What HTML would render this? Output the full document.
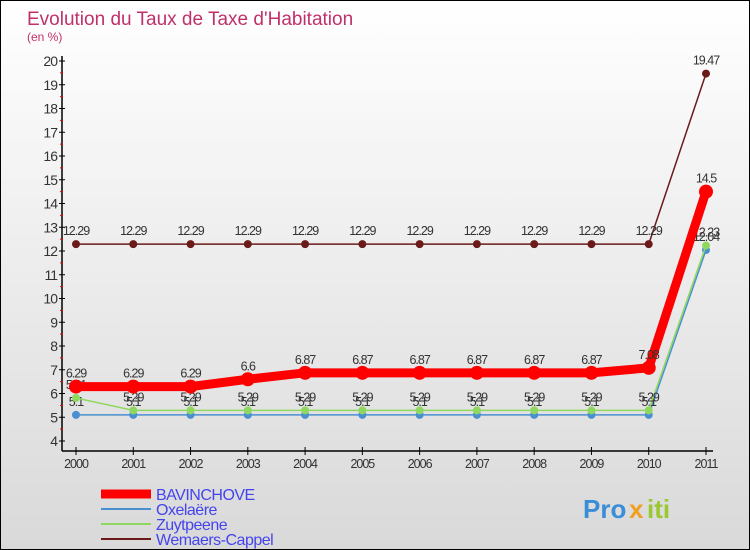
<!DOCTYPE html>
<html><head><meta charset="utf-8"><style>
body{margin:0;}
#c{width:750px;height:550px;position:relative;overflow:hidden;border:1px solid #000;box-sizing:border-box;background:linear-gradient(#ffffff,#d9d9d9);font-family:"Liberation Sans",sans-serif;}
</style></head><body>
<div id="c">
<svg id="s" width="750" height="550" xmlns="http://www.w3.org/2000/svg" style="position:absolute;left:0;top:0"></svg>
</div>
<script>
const years=["2000","2001","2002","2003","2004","2005","2006","2007","2008","2009","2010","2011"];
const bav=[6.29,6.29,6.29,6.6,6.87,6.87,6.87,6.87,6.87,6.87,7.08,14.5];
const oxe=[5.1,5.1,5.1,5.1,5.1,5.1,5.1,5.1,5.1,5.1,5.1,12.04];
const zuy=[5.81,5.29,5.29,5.29,5.29,5.29,5.29,5.29,5.29,5.29,5.29,12.23];
const wem=[12.29,12.29,12.29,12.29,12.29,12.29,12.29,12.29,12.29,12.29,12.29,19.47];
const yTicks=[4,5,6,7,8,9,10,11,12,13,14,15,16,17,18,19,20];
const NS="http://www.w3.org/2000/svg";
const s=document.getElementById('s');
const X=i=>75+i*(630/11);
const Y=v=>440-(v-4)*23.75;
function mk(t,a,name,p){const e=document.createElementNS(NS,t);for(const k in a)e.setAttribute(k,a[k]);


(p||s).appendChild(e);return e;}
function txt(x,y,str,a,name){const e=mk('text',Object.assign({x:x,y:y},a),name);e.textContent=str;return e;}
txt(26,24,"Evolution du Taux de Taxe d'Habitation",{fill:'#c0306a','font-size':19},'chart-title');
txt(26,40,"(en %)",{fill:'#c0306a','font-size':12},'chart-subtitle');
mk('line',{x1:61,y1:55,x2:61,y2:450,stroke:'#000','stroke-width':1.5},'y-axis');
mk('line',{x1:61,y1:450,x2:712,y2:450,stroke:'#000','stroke-width':1.5},'x-axis');
yTicks.forEach(v=>{mk('line',{x1:58,y1:Y(v),x2:64,y2:Y(v),stroke:'#000'},'y-tick');
if(v<20)mk('line',{x1:59,y1:Y(v+0.5),x2:62,y2:Y(v+0.5),stroke:'#e00'},'y-minor-tick');
txt(56,Y(v)+5,String(v),{'text-anchor':'end','font-size':14,fill:'#333','letter-spacing':'-1'},'y-tick-label');});
years.forEach((y,i)=>{mk('line',{x1:X(i),y1:446,x2:X(i),y2:454,stroke:'#000'},'x-tick');
txt(X(i),467,y,{'text-anchor':'middle','font-size':12.5,fill:'#333','letter-spacing':'-1'},'x-tick-label');});
function series(d,col,w,r,name){const g=mk('g',{},name+'-series');
mk('polyline',{points:d.map((v,i)=>X(i)+','+Y(v)).join(' '),fill:'none',stroke:col,'stroke-width':w},name+'-line',g);
d.forEach((v,i)=>{mk('circle',{cx:X(i),cy:Y(v),r:r,fill:col},name+'-point',g);
const t=mk('text',{x:X(i),y:Y(v)-9,'text-anchor':'middle','font-size':12.5,fill:'#333','letter-spacing':'-1'},name+'-value-label',g);t.textContent=String(v);});}
series(wem,'#6b1a1a',1.5,4,'wemaers-cappel');
series(oxe,'#4a90d0',1.5,4,'oxelaere');
series(zuy,'#8ed860',1.5,4,'zuytpeene');
series(bav,'#ff0000',9,7,'bavinchove');
const leg=[["BAVINCHOVE",'#ff0000',9],["Oxelaëre",'#4a90d0',2],["Zuytpeene",'#8ed860',2],["Wemaers-Cappel",'#6b1a1a',2]];
leg.forEach((l,i)=>{const y=493+i*15;mk('line',{x1:100,y1:y,x2:150,y2:y,stroke:l[1],'stroke-width':l[2]},'legend-swatch');
txt(155,y+6,l[0],{'font-size':16,fill:'#4444ee','letter-spacing':'-0.5'},'legend-entry');});
txt(582,517,"Pro",{'font-size':26,'font-weight':'bold',fill:'#3a8ed8'},'logo');
txt(628,517,"x",{'font-size':26,'font-weight':'bold',fill:'#f0a020'},'logo-x');
txt(646,517,"iti",{'font-size':26,'font-weight':'bold',fill:'#9ac830'},'logo-iti');
</script>
</body></html>
